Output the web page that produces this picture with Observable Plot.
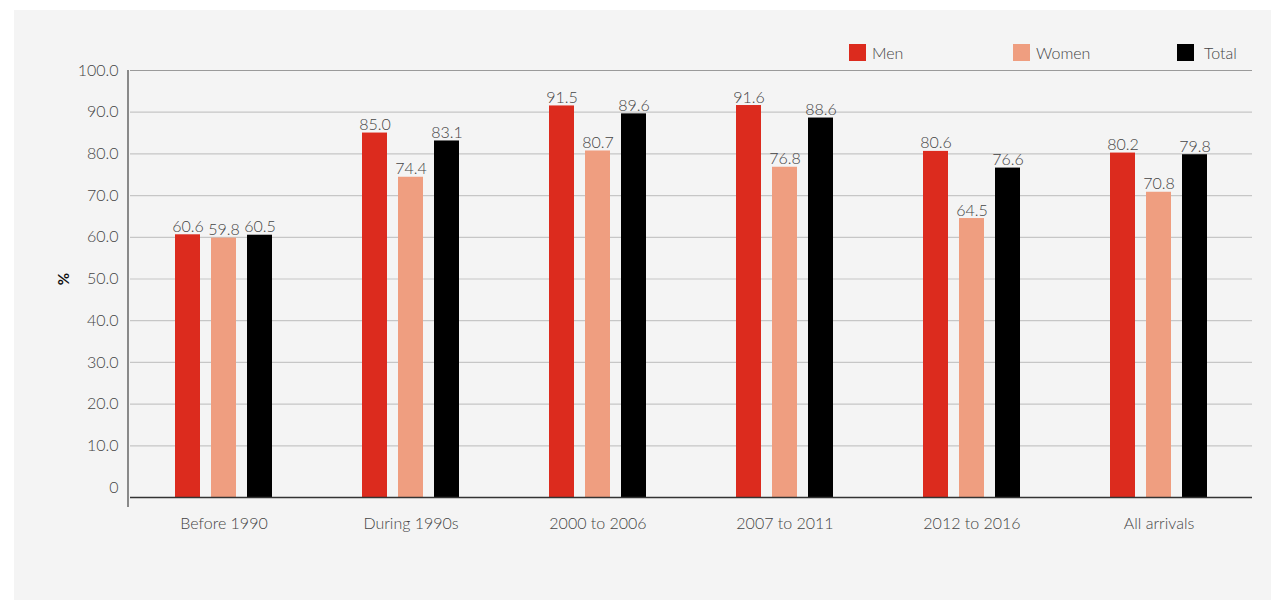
<!DOCTYPE html>
<html>
<head>
<meta charset="utf-8">
<script src="https://cdn.jsdelivr.net/npm/d3@7"></script>
<script src="https://cdn.jsdelivr.net/npm/@observablehq/plot@0.6"></script>
<style>
  html, body { margin: 0; padding: 0; background: #ffffff; }
  #card {
    position: relative;
    margin: 10px 0 0 14px;
    width: 1257px;
    height: 590px;
    background: #f4f4f4;
    font-family: Lato, "Open Sans", sans-serif;
  }
  #legend {
    position: absolute;
    top: 34px;
    left: 835px;
    display: flex;
    font-size: 16px;
    font-weight: 300;
    color: #444;
    line-height: 17px;
  }
  .item { display: flex; align-items: center; width: 164px; }
  .swatch { width: 17px; height: 17px; margin-right: 6px; }
  .item:last-child .swatch { margin-right: 10px; }
  #chart svg { display: block; }
</style>
</head>
<body>
<div id="card">
  <div id="chart"></div>
  <div id="legend"></div>
</div>
<script>
// Arrival cohorts and the share (%) for each group
const groups = ["Before 1990", "During 1990s", "2000 to 2006", "2007 to 2011", "2012 to 2016", "All arrivals"];
const series = ["Men", "Women", "Total"];
const men = [60.6, 85.0, 91.5, 91.6, 80.6, 80.2];
const women = [59.8, 74.4, 80.7, 76.8, 64.5, 70.8];
const total = [60.5, 83.1, 89.6, 88.6, 76.6, 79.8];
const colors = ["#dc2b1e", "#ef9e80", "#000000"];
const yTicks = [0, 10, 20, 30, 40, 50, 60, 70, 80, 90, 100];

const seriesValues = [men, women, total];
const rows = groups.flatMap((group, i) =>
  series.map((s, j) => ({group, series: s, value: seriesValues[j][i]}))
);

const textColor = "#444";

const chart = Plot.plot({
  width: 1257,
  height: 590,
  marginTop: 60,
  marginBottom: 113,
  marginLeft: 115,
  marginRight: 18,
  style: {background: "transparent", fontFamily: "Lato, 'Open Sans', sans-serif", fontSize: "16px", color: textColor},
  fx: {domain: groups, padding: 0, axis: null, label: null},
  x: {domain: series, paddingInner: 0.315, paddingOuter: 1.23, axis: null},
  y: {domain: [0, 100], axis: null},
  color: {domain: series, range: colors},
  marks: [
    Plot.ruleY(yTicks.filter(t => t > 0 && t < 100), {stroke: "#c6c6c6", strokeWidth: 1.2}),
    Plot.ruleY([100], {stroke: "#9a9a9a", strokeWidth: 1.2}),
    Plot.barY(rows, {fx: "group", x: "series", y: "value", fill: "series", insetBottom: -10}),
    Plot.ruleY([0], {dy: 10, stroke: "#333", strokeWidth: 1.5}),
    Plot.text(rows, {
      fx: "group", x: "series", y: "value",
      text: d => d.value.toFixed(1),
      lineAnchor: "bottom", dy: -3, fill: textColor, fontSize: 16, fontWeight: 300
    }),
    Plot.axisY({
      ticks: yTicks, tickSize: 0, tickPadding: 12,
      tickFormat: d => d === 0 ? "0" : d.toFixed(1),
      label: null, fontSize: 16, fill: textColor, fontWeight: 300
    }),
    Plot.axisY({
      ticks: [], label: "%", labelAnchor: "center", labelOffset: 72, labelArrow: "none",
      fontSize: 15, fill: "#111", fontWeight: "bold"
    }),
    Plot.axisFx({anchor: "bottom", tickSize: 0, tickPadding: 30, fontSize: 16, fill: textColor, fontWeight: 300, label: null})
  ]
});

document.getElementById("chart").appendChild(chart);

// Vertical axis line on the left edge, from the 100 line down past the baseline
const yScale = chart.scale("y");
const fxScale = chart.scale("fx");
const left = Math.min(...fxScale.range) - 1;
d3.select(chart).append("line")
  .attr("x1", left).attr("x2", left)
  .attr("y1", yScale.apply(100))
  .attr("y2", yScale.apply(0) + 20)
  .attr("stroke", "#666")
  .attr("stroke-width", 1.5);

// Legend
const legend = d3.select("#legend");
series.forEach((s, i) => {
  const item = legend.append("div").attr("class", "item");
  item.append("div").attr("class", "swatch").style("background", colors[i]);
  item.append("span").text(s);
});
</script>
</body>
</html>
